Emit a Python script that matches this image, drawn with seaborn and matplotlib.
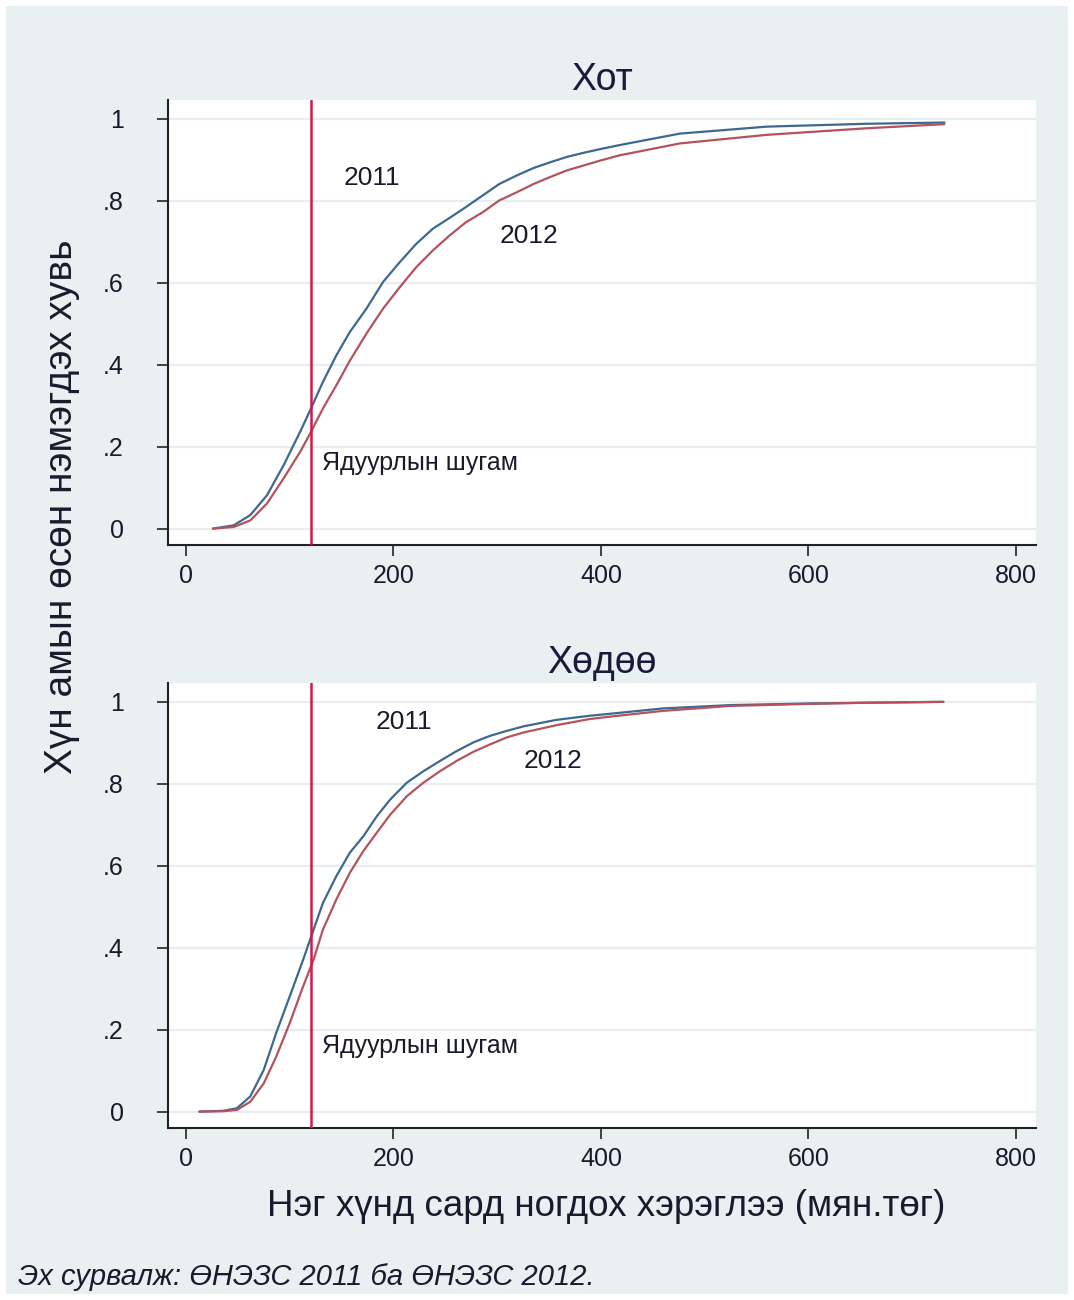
import numpy as np
import pandas as pd
import matplotlib
matplotlib.use('Agg')
import matplotlib.pyplot as plt
import seaborn as sns
from matplotlib.patches import Rectangle

# cumulative share of population by monthly per-capita consumption
# (thousand tugrug)
city_x_2011 = [26, 46, 62, 78, 94, 110, 120.5, 132, 145, 158, 174, 190, 206,
               222, 238, 254, 270, 286, 302, 319, 335, 351, 367, 383, 399,
               418, 476, 560, 656, 731]
city_y_2011 = [0, 0.008, 0.033, 0.081, 0.154, 0.236, 0.293, 0.358, 0.423,
               0.48, 0.537, 0.602, 0.65, 0.695, 0.732, 0.758, 0.785, 0.813,
               0.841, 0.862, 0.88, 0.894, 0.907, 0.917, 0.926, 0.936, 0.964,
               0.981, 0.988, 0.991]
city_x_2012 = [26, 46, 62, 78, 94, 110, 120.5, 132, 145, 158, 174, 190, 206,
               222, 238, 254, 270, 286, 302, 319, 335, 351, 367, 383, 399,
               418, 476, 560, 656, 731]
city_y_2012 = [0, 0.004, 0.02, 0.061, 0.122, 0.187, 0.236, 0.293, 0.35,
               0.41, 0.476, 0.537, 0.589, 0.638, 0.679, 0.715, 0.748, 0.772,
               0.801, 0.821, 0.841, 0.858, 0.874, 0.886, 0.898, 0.911, 0.94,
               0.961, 0.977, 0.987]

rural_x_2011 = [13, 36, 49, 62, 75, 87, 100, 113, 123, 132, 145, 158, 171,
                184, 197, 213, 229, 245, 261, 277, 293, 309, 325, 357, 389,
                409, 460, 524, 600, 660, 730]
rural_y_2011 = [0, 0.002, 0.008, 0.037, 0.102, 0.192, 0.281, 0.371, 0.444,
                0.509, 0.575, 0.632, 0.672, 0.721, 0.762, 0.803, 0.831, 0.856,
                0.88, 0.901, 0.917, 0.929, 0.94, 0.956, 0.966, 0.971, 0.984,
                0.992, 0.996, 0.998, 1.0]
rural_x_2012 = [13, 36, 49, 62, 75, 87, 100, 113, 123, 132, 145, 158, 171,
                184, 197, 213, 229, 245, 261, 277, 293, 309, 325, 357, 389,
                409, 460, 524, 600, 660, 730]
rural_y_2012 = [0, 0.001, 0.004, 0.024, 0.069, 0.134, 0.216, 0.306, 0.371,
                0.444, 0.518, 0.583, 0.636, 0.681, 0.725, 0.77, 0.803, 0.831,
                0.856, 0.878, 0.896, 0.913, 0.925, 0.943, 0.958, 0.964, 0.978,
                0.99, 0.995, 0.998, 1.0]

poverty_line = 121
panel_titles = ['Хот', 'Хөдөө']
years = ['2011', '2012']
y_ticks = [0, 0.2, 0.4, 0.6, 0.8, 1]
y_tick_labels = ['0', '.2', '.4', '.6', '.8', '1']
x_ticks = [0, 200, 400, 600, 800]

sns.set_style('white')
plt.rcParams['font.family'] = ['Liberation Sans', 'DejaVu Sans']

BG = '#e9f0f2'
BLUE = '#3d6890'
RED = '#b5525c'
VLINE = '#d21a4a'
TXT = '#1a1a2e'


def make_df(x11, y11, x12, y12):
    d1 = pd.DataFrame({'x': x11, 'y': y11, 'year': '2011'})
    d2 = pd.DataFrame({'x': x12, 'y': y12, 'year': '2012'})
    return pd.concat([d1, d2], ignore_index=True)


panels = [
    make_df(city_x_2011, city_y_2011, city_x_2012, city_y_2012),
    make_df(rural_x_2011, rural_y_2011, rural_x_2012, rural_y_2012),
]
# label positions (x, y) for 2011, 2012 labels in each panel
label_pos = [
    [(152, 0.855), (302, 0.715)],
    [(183, 0.951), (325, 0.856)],
]

fig = plt.figure(figsize=(10.74, 13), dpi=100)
fig.patches.append(Rectangle((6 / 1074, 6 / 1300), 1062 / 1074, 1288 / 1300,
                             transform=fig.transFigure, facecolor=BG,
                             edgecolor='none', zorder=-5))

ax_pos = [[168 / 1074, 1 - 545 / 1300, 868 / 1074, 445 / 1300],
          [168 / 1074, 1 - 1128 / 1300, 868 / 1074, 445 / 1300]]

for i, df in enumerate(panels):
    ax = fig.add_axes(ax_pos[i])
    ax.set_zorder(2)
    ax.set_facecolor('white')
    for yt in y_ticks:
        ax.axhline(yt, color='#e6eef0', lw=1.6, zorder=0)
    sns.lineplot(data=df, x='x', y='y', hue='year',
                 palette={'2011': BLUE, '2012': RED}, lw=1.6,
                 legend=False, ax=ax, zorder=3, estimator=None, sort=True)
    ax.axvline(poverty_line, color=VLINE, lw=1.8, zorder=4)
    for (lx, ly), yr in zip(label_pos[i], years):
        ax.text(lx, ly, yr, fontsize=19, color=TXT, va='center')
    ax.text(131, 0.16, 'Ядуурлын шугам', fontsize=18, color=TXT,
            va='center')

    ax.set_xlim(-17.3, 819.3)
    ax.set_ylim(-0.04, 1.046)
    ax.set_xticks(x_ticks)
    ax.set_xticklabels([str(v) for v in x_ticks])
    ax.set_yticks(y_ticks)
    ax.set_yticklabels(y_tick_labels)
    ax.tick_params(axis='both', direction='out', length=8, width=1.3,
                   color='#333333', labelsize=18, labelcolor=TXT,
                   left=True, bottom=True)
    ax.tick_params(axis='y', pad=24)
    ax.tick_params(axis='x', pad=6)
    for s in ['top', 'right']:
        ax.spines[s].set_visible(False)
    for s in ['left', 'bottom']:
        ax.spines[s].set_color('#222222')
        ax.spines[s].set_linewidth(1.5)
    ax.set_xlabel('')
    ax.set_ylabel('')
    ax.set_title(panel_titles[i], fontsize=27, color='#1a1a3a', pad=7)

fig.text(606 / 1074, 1 - 1207 / 1300,
         'Нэг хүнд сард ногдох хэрэглээ (мян.төг)',
         fontsize=26.5, color=TXT, ha='center', va='center')
fig.text(62 / 1074, 1 - 507 / 1300, 'Хүн амын өсөн нэмэгдэх хувь',
         fontsize=28, color=TXT, ha='center', va='center', rotation=90)
fig.text(18 / 1074, 1 - 1277 / 1300, 'Эх сурвалж: ӨНЭЗС 2011 ба ӨНЭЗС 2012.',
         fontsize=21, color=TXT, ha='left', va='center', style='italic')

fig.savefig('out.png', dpi=100, facecolor='white')
